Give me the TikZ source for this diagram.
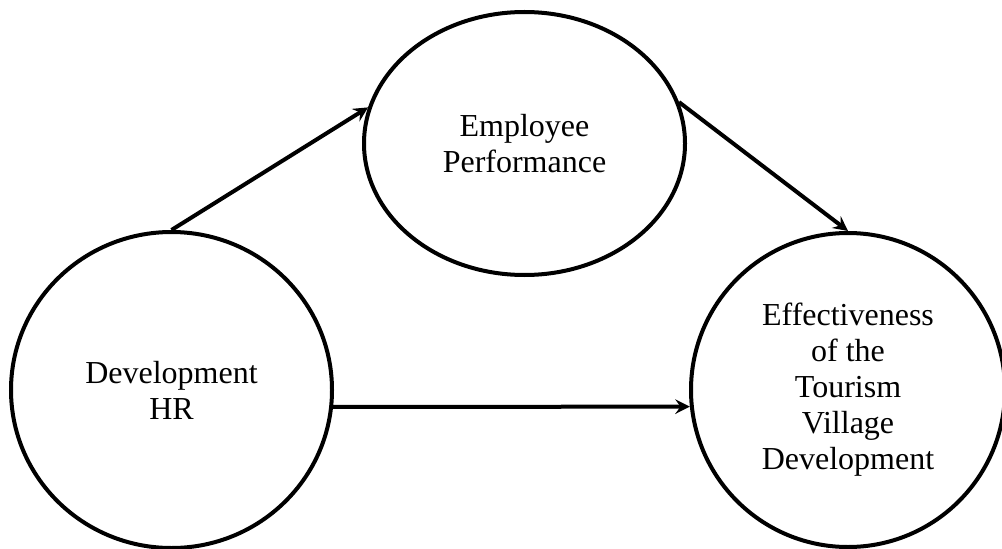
\documentclass[tikz,border=0pt]{standalone}
\usepackage{fontspec}
\setmainfont{Liberation Serif}
\usetikzlibrary{shapes.geometric,arrows.meta}
\begin{document}
\begin{tikzpicture}[x=0.75pt,y=-0.75pt,
  blob/.style={draw=black,line width=3pt,ellipse,inner sep=0pt,align=center,
    font=\fontsize{24}{27}\selectfont},
  link/.style={line width=3pt,-{Stealth[length=11pt,width=11pt,inset=4pt]}}]
\useasboundingbox (0,0) rectangle (1002,549);
\node[blob,minimum width=240.75pt,minimum height=237pt] (L) at (171.5,390) {Development\\HR};
\node[blob,minimum width=240.75pt,minimum height=197.25pt] (T) at (524.5,143.5) {Employee\\Performance};
\node[blob,minimum width=235.5pt,minimum height=235.5pt] (R) at (848,390) {Effectiveness\\of the\\Tourism\\Village\\Development};
\draw[link] (L.north) -- (T.167);
\draw[link] (T.15) -- (R.north);
\draw[link] (L.-6.5) -- (R.186.5);
\end{tikzpicture}
\end{document}
